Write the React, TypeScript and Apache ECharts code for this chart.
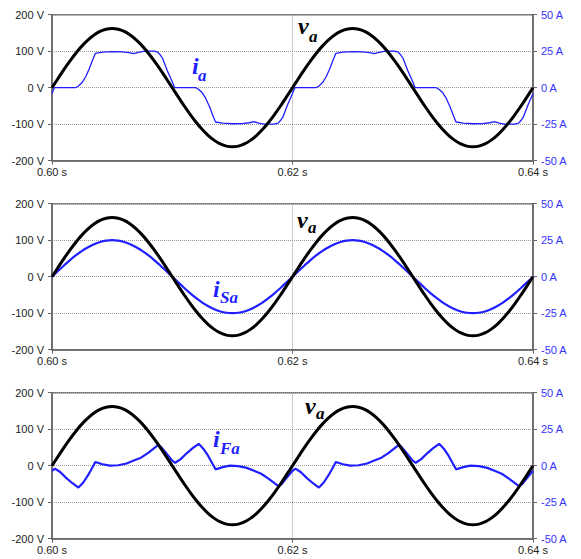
import React, { useEffect, useRef } from "react";
import * as echarts from "echarts";

// Time base: ms after 0.60 s
const xTicksMs = [0, 20, 40];

// Supply voltage v_a (V), sampled every 0.5 ms from 0 to 40 ms
const voltageStepMs = 0.5;
const vaValues = [
  0, 25.3, 50.1, 73.5, 95.2, 114.6, 131.1, 144.3, 154.1, 160.0, 162, 160.0, 154.1, 144.3, 131.1, 114.6, 95.2, 73.5, 50.1, 25.3,
  0, -25.3, -50.1, -73.5, -95.2, -114.6, -131.1, -144.3, -154.1, -160.0, -162, -160.0, -154.1, -144.3, -131.1, -114.6, -95.2, -73.5, -50.1, -25.3,
  0, 25.3, 50.1, 73.5, 95.2, 114.6, 131.1, 144.3, 154.1, 160.0, 162, 160.0, 154.1, 144.3, 131.1, 114.6, 95.2, 73.5, 50.1, 25.3,
  0, -25.3, -50.1, -73.5, -95.2, -114.6, -131.1, -144.3, -154.1, -160.0, -162, -160.0, -154.1, -144.3, -131.1, -114.6, -95.2, -73.5, -50.1, -25.3,
  0,
];

// Source current i_Sa (A), sampled every 0.5 ms
const iSaValues = [
  0, 3.9, 7.7, 11.4, 14.7, 17.7, 20.2, 22.3, 23.8, 24.7, 25, 24.7, 23.8, 22.3, 20.2, 17.7, 14.7, 11.4, 7.7, 3.9,
  0, -3.9, -7.7, -11.4, -14.7, -17.7, -20.2, -22.3, -23.8, -24.7, -25, -24.7, -23.8, -22.3, -20.2, -17.7, -14.7, -11.4, -7.7, -3.9,
  0, 3.9, 7.7, 11.4, 14.7, 17.7, 20.2, 22.3, 23.8, 24.7, 25, 24.7, 23.8, 22.3, 20.2, 17.7, 14.7, 11.4, 7.7, 3.9,
  0, -3.9, -7.7, -11.4, -14.7, -17.7, -20.2, -22.3, -23.8, -24.7, -25, -24.7, -23.8, -22.3, -20.2, -17.7, -14.7, -11.4, -7.7, -3.9,
  0,
];

// Load current i_a (A)
const iaTimesMs = [
  0, 0.2, 1.95, 2.2, 2.5, 2.8, 3.1, 3.4, 3.6, 4.2, 5.0, 5.8, 6.4, 6.8, 7.2, 7.6, 8.0, 8.5, 8.8, 9.0, 9.2, 9.6,
  10, 10.2, 11.95, 12.2, 12.5, 12.8, 13.1, 13.4, 13.6, 14.2, 15.0, 15.8, 16.4, 16.8, 17.2, 17.6, 18.0, 18.5, 18.8, 19.0, 19.2, 19.6,
  20, 20.2, 21.95, 22.2, 22.5, 22.8, 23.1, 23.4, 23.6, 24.2, 25.0, 25.8, 26.4, 26.8, 27.2, 27.6, 28.0, 28.5, 28.8, 29.0, 29.2, 29.6,
  30, 30.2, 31.95, 32.2, 32.5, 32.8, 33.1, 33.4, 33.6, 34.2, 35.0, 35.8, 36.4, 36.8, 37.2, 37.6, 38.0, 38.5, 38.8, 39.0, 39.2, 39.6,
  40,
];
const iaValues = [
  -4, 0, 0, 1.2, 3.5, 7.5, 13, 19.5, 23.5, 24.3, 24.7, 24.6, 24.0, 23.3, 24.2, 24.9, 25.0, 25.0, 24.3, 22.5, 20, 11.5,
  4, 0, 0, -1.2, -3.5, -7.5, -13, -19.5, -23.5, -24.3, -24.7, -24.6, -24.0, -23.3, -24.2, -24.9, -25.0, -25.0, -24.3, -22.5, -20, -11.5,
  -4, 0, 0, 1.2, 3.5, 7.5, 13, 19.5, 23.5, 24.3, 24.7, 24.6, 24.0, 23.3, 24.2, 24.9, 25.0, 25.0, 24.3, 22.5, 20, 11.5,
  4, 0, 0, -1.2, -3.5, -7.5, -13, -19.5, -23.5, -24.3, -24.7, -24.6, -24.0, -23.3, -24.2, -24.9, -25.0, -25.0, -24.3, -22.5, -20, -11.5,
  -4,
];

// Filter current i_Fa (A)
const iFaTimesMs = [
  0, 0.25, 0.7, 1.2, 1.7, 2.2, 2.6, 3.0, 3.44, 3.6, 4.2, 4.8, 5.5, 6.2, 6.8, 7.4, 8.0, 8.5, 8.85, 9.1, 9.5, 9.9,
  10, 10.25, 10.7, 11.2, 11.7, 12.2, 12.6, 13.0, 13.44, 13.6, 14.2, 14.8, 15.5, 16.2, 16.8, 17.4, 18.0, 18.5, 18.85, 19.1, 19.5, 19.9,
  20, 20.25, 20.7, 21.2, 21.7, 22.2, 22.6, 23.0, 23.44, 23.6, 24.2, 24.8, 25.5, 26.2, 26.8, 27.4, 28.0, 28.5, 28.85, 29.1, 29.5, 29.9,
  30, 30.25, 30.7, 31.2, 31.7, 32.2, 32.6, 33.0, 33.44, 33.6, 34.2, 34.8, 35.5, 36.2, 36.8, 37.4, 38.0, 38.5, 38.85, 39.1, 39.5, 39.9,
  40,
];
const iFaValues = [
  -3.5, -2, -4.5, -8.5, -12, -15, -11.5, -6.5, 0, 2.5, 1, 0, 0.3, 1.5, 3.5, 5.5, 8.8, 12, 14.2, 12.5, 8.5, 4.5,
  3.5, 2, 4.5, 8.5, 12, 15, 11.5, 6.5, 0, -2.5, -1, 0, -0.3, -1.5, -3.5, -5.5, -8.8, -12, -14.2, -12.5, -8.5, -4.5,
  -3.5, -2, -4.5, -8.5, -12, -15, -11.5, -6.5, 0, 2.5, 1, 0, 0.3, 1.5, 3.5, 5.5, 8.8, 12, 14.2, 12.5, 8.5, 4.5,
  3.5, 2, 4.5, 8.5, 12, 15, 11.5, 6.5, 0, -2.5, -1, 0, -0.3, -1.5, -3.5, -5.5, -8.8, -12, -14.2, -12.5, -8.5, -4.5,
  -3.5,
];

const voltTicks = [-200, -100, 0, 100, 200];
const ampTicks = [-50, -25, 0, 25, 50];

const BLUE = "#1f1fff";
const AXIS = "#666";

const uniform = (vals: number[]) => vals.map((v, i) => [i * voltageStepMs, v]);
const pairs = (ts: number[], vs: number[]) => ts.map((t, i) => [t, vs[i]]);

export default function App() {
  const ref = useRef<HTMLDivElement>(null);
  useEffect(() => {
    if (!ref.current) return;
    const chart = echarts.init(ref.current, null, { renderer: "svg" });
    const tops = [14.7, 203.7, 392.7];
    const grids = tops.map((top) => ({
      left: 52,
      right: 48,
      top,
      height: 146,
      show: true,
      borderColor: AXIS,
      borderWidth: 1.5,
      backgroundColor: "transparent",
    }));
    const xAxes = tops.map((_, g) => ({
      type: "value",
      gridIndex: g,
      position: "bottom",
      min: xTicksMs[0],
      max: xTicksMs[xTicksMs.length - 1],
      interval: xTicksMs[1] - xTicksMs[0],
      axisLine: { show: true, onZero: false, lineStyle: { color: AXIS, width: 1.5 } },
      axisTick: { show: true, length: 4, lineStyle: { color: AXIS } },
      splitLine: { show: true, lineStyle: { color: "#999", type: "dotted", width: 1 } },
      axisLabel: {
        color: "#222",
        fontSize: 11,
        fontFamily: "Liberation Sans",
        margin: 6,
        formatter: (v: number) => (0.6 + v / 1000).toFixed(2) + " s",
      },
    }));
    const yAxes: any[] = [];
    tops.forEach((_, g) => {
      yAxes.push({
        type: "value",
        gridIndex: g,
        position: "left",
        min: voltTicks[0],
        max: voltTicks[voltTicks.length - 1],
        interval: voltTicks[1] - voltTicks[0],
        axisLine: { show: true, onZero: false, lineStyle: { color: AXIS, width: 1.5 } },
        axisTick: { show: true, length: 4, lineStyle: { color: AXIS } },
        splitLine: { show: true, lineStyle: { color: "#999", type: "dotted", width: 1 } },
        axisLabel: {
          color: "#222",
          fontSize: 11,
          fontFamily: "Liberation Sans",
          margin: 8,
          formatter: "{value} V",
        },
      });
      yAxes.push({
        type: "value",
        gridIndex: g,
        position: "right",
        min: ampTicks[0],
        max: ampTicks[ampTicks.length - 1],
        interval: ampTicks[1] - ampTicks[0],
        axisLine: { show: true, onZero: false, lineStyle: { color: AXIS, width: 1.5 } },
        axisTick: { show: true, length: 4, lineStyle: { color: AXIS } },
        splitLine: { show: false },
        axisLabel: {
          color: "#3333ff",
          fontSize: 11,
          fontFamily: "Liberation Sans",
          margin: 8,
          formatter: "{value} A",
        },
      });
    });
    const currents = [
      { data: pairs(iaTimesMs, iaValues), width: 1.3 },
      { data: uniform(iSaValues), width: 2.2 },
      { data: pairs(iFaTimesMs, iFaValues), width: 2.2 },
    ];
    const series: any[] = [];
    tops.forEach((_, g) => {
      series.push({
        type: "line",
        xAxisIndex: g,
        yAxisIndex: g * 2 + 1,
        data: currents[g].data,
        showSymbol: false,
        symbol: "none",
        smooth: g === 1 ? 0.3 : false,
        lineStyle: { color: BLUE, width: currents[g].width },
        z: 2,
      });
      series.push({
        type: "line",
        xAxisIndex: g,
        yAxisIndex: g * 2,
        data: uniform(vaValues),
        showSymbol: false,
        symbol: "none",
        smooth: 0.3,
        lineStyle: { color: "#000", width: 3 },
        z: 3,
      });
    });
    const label = (text: string, x: number, yBottom: number, size: number, color: string) => ({
      type: "text",
      x,
      y: yBottom,
      z: 10,
      style: {
        text,
        fill: color,
        font: `italic bold ${size}px "Liberation Serif", "DejaVu Serif", serif`,
        verticalAlign: "bottom",
        align: "left",
      },
    });
    const graphic = [
      label("v", 298, 38, 24, "#000"),
      label("a", 309, 45, 17, "#000"),
      label("i", 192, 78, 24, BLUE),
      label("a", 198, 83.5, 17, BLUE),

      label("v", 297, 232, 24, "#000"),
      label("a", 308, 236, 17, "#000"),
      label("i", 213, 301, 24, BLUE),
      label("Sa", 220, 306, 17, BLUE),

      label("v", 305, 418, 24, "#000"),
      label("a", 316, 422, 17, "#000"),
      label("i", 213, 451, 24, BLUE),
      label("Fa", 220, 457, 17, BLUE),
    ];
    chart.setOption({
      animation: false,
      backgroundColor: "#fff",
      grid: grids,
      xAxis: xAxes,
      yAxis: yAxes,
      series,
      graphic,
    });
    return () => chart.dispose();
  }, []);
  return (
    <div
      ref={ref}
      style={{ position: "absolute", left: 0, top: 0, width: 581, height: 559 }}
    />
  );
}
